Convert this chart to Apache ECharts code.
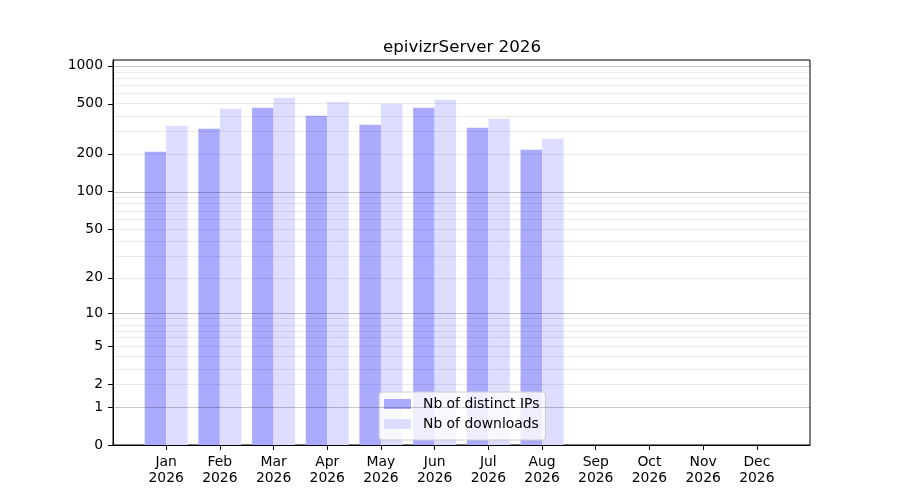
<!DOCTYPE html>
<html>
<head>
<meta charset="utf-8">
<script src="https://cdn.jsdelivr.net/npm/echarts@6/dist/echarts.min.js"></script>
<style>html,body{margin:0;padding:0;background:#fff}#c{width:900px;height:500px}</style>
</head>
<body>
<div id="c"></div>
<script>
const months = ['Jan','Feb','Mar','Apr','May','Jun','Jul','Aug','Sep','Oct','Nov','Dec'];
const year = '2026';
const ipsValues = [208, 317, 465, 402, 341, 465, 323, 216, 0, 0, 0, 0];
const downloadValues = [335, 457, 558, 519, 500, 538, 380, 264, 0, 0, 0, 0];
const yTickValues = [0, 1, 2, 5, 10, 20, 50, 100, 200, 500, 1000];
const majorGrid = [1, 10, 100, 1000];
const minorGrid = [2,3,4,5,6,7,8,9,20,30,40,50,60,70,80,90,200,300,400,500,600,700,800,900];

const tf = v => Math.log10(1 + v);
const FONT = 'DejaVu Sans';
const chart = echarts.init(document.getElementById('c'), null, {renderer: 'canvas'});

const gridLines = [];
minorGrid.forEach(v => gridLines.push({yAxis: tf(v), lineStyle: {color: 'rgba(0,0,0,0.08)', width: 1, type: 'solid'}}));
majorGrid.forEach(v => gridLines.push({yAxis: tf(v), lineStyle: {color: 'rgba(0,0,0,0.22)', width: 1, type: 'solid'}}));

chart.setOption({
  animation: false,
  title: {
    text: 'epivizrServer 2026',
    left: 462, top: 38, textAlign: 'center', padding: 0,
    textStyle: {fontFamily: FONT, fontSize: 16.7, fontWeight: 'normal', color: '#000', lineHeight: 20}
  },
  grid: {left: 113, right: 90, top: 60, bottom: 55, show: true, borderColor: '#000', borderWidth: 1, backgroundColor: 'transparent'},
  legend: {
    orient: 'vertical', left: 379, top: 392,
    itemWidth: 27, itemHeight: 10, itemGap: 6,
    padding: [5, 6, 9, 5],
    backgroundColor: 'rgba(255,255,255,0.8)', borderColor: '#cccccc', borderWidth: 1, borderRadius: 3,
    icon: 'rect',
    textStyle: {fontFamily: FONT, fontSize: 13.9, color: '#000', padding: [0,0,0,7]},
    data: ['Nb of distinct IPs', 'Nb of downloads']
  },
  xAxis: {
    type: 'value', min: -0.99, max: 11.99,
    splitLine: {show: false},
    axisLine: {show: true, onZero: false, lineStyle: {color: '#000', width: 1}},
    axisTick: {show: true, customValues: months.map((m, i) => i), length: 5, lineStyle: {color: '#000'}},
    axisLabel: {
      customValues: months.map((m, i) => i), margin: 9,
      fontFamily: FONT, fontSize: 13.9, color: '#000', lineHeight: 16.5,
      formatter: v => months[Math.round(v)] + '\n' + year
    }
  },
  yAxis: {
    type: 'value', min: 0, max: 3.046,
    splitLine: {show: false},
    axisLine: {show: true, onZero: false, lineStyle: {color: '#000', width: 1}},
    axisTick: {show: true, customValues: yTickValues.map(tf), length: 5, lineStyle: {color: '#000'}},
    axisLabel: {
      customValues: yTickValues.map(tf), margin: 10,
      fontFamily: FONT, fontSize: 13.9, color: '#000', padding: [3, 0, 0, 0],
      formatter: v => String(Math.round(Math.pow(10, v) - 1))
    }
  },
  series: [
    {
      name: 'Nb of distinct IPs', type: 'bar', barWidth: 21.5, barGap: '0%',
      itemStyle: {color: '#aaaaff'},
      data: ipsValues.map((v, i) => [i, tf(v)]), z: 2
    },
    {
      name: 'Nb of downloads', type: 'bar', barWidth: 21.5, barGap: '0%',
      itemStyle: {color: '#ddddff'},
      data: downloadValues.map((v, i) => [i, tf(v)]), z: 2
    },
    {
      name: 'grid', type: 'line', data: [], z: 5, silent: true,
      markLine: {silent: true, symbol: ['none','none'], label: {show: false}, animation: false, data: gridLines, z: 5}
    }
  ]
});
</script>
</body>
</html>
